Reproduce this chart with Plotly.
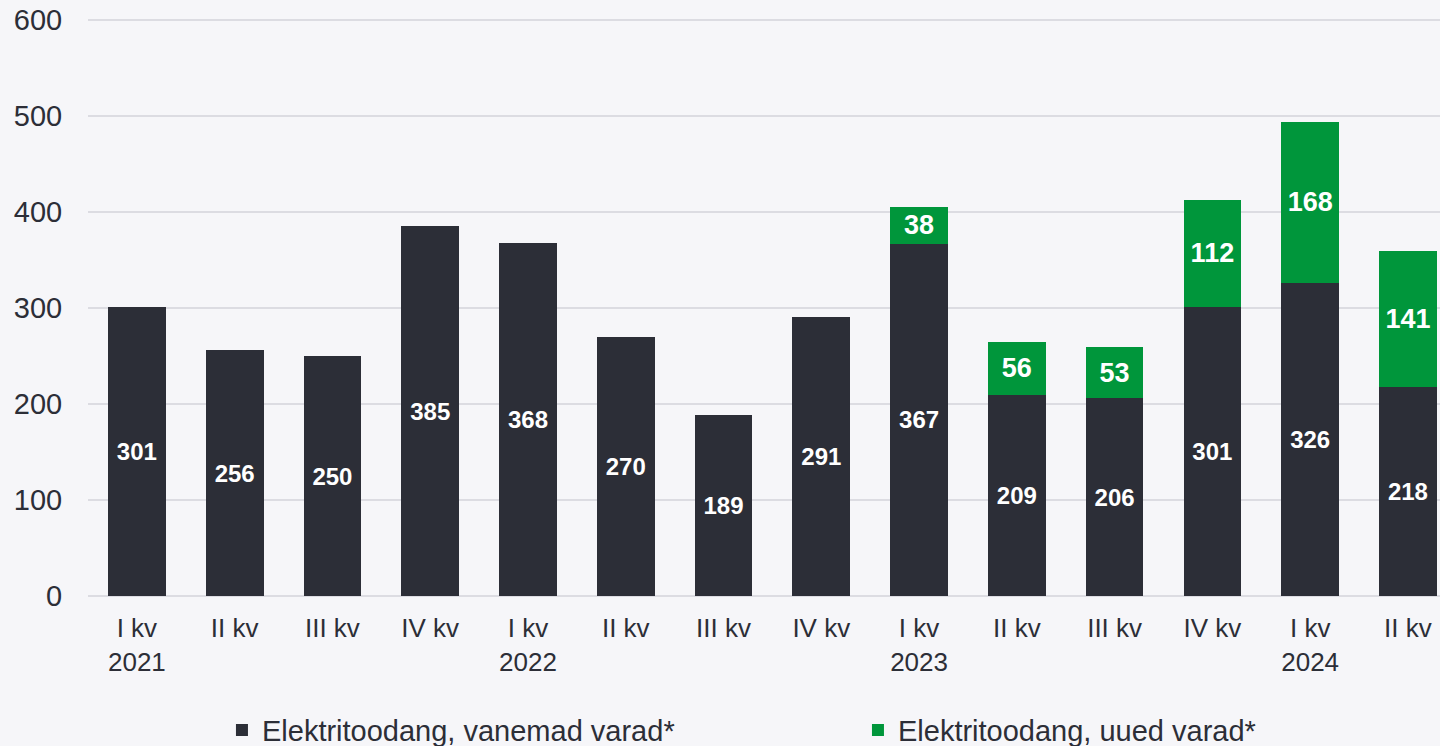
import plotly.graph_objects as go

quarters = ["I kv<br>2021", "II kv", "III kv", "IV kv", "I kv<br>2022", "II kv", "III kv",
            "IV kv", "I kv<br>2023", "II kv", "III kv", "IV kv", "I kv<br>2024", "II kv"]
old_assets = [301, 256, 250, 385, 368, 270, 189, 291, 367, 209, 206, 301, 326, 218]
new_assets = [None, None, None, None, None, None, None, None, 38, 56, 53, 112, 168, 141]
y_ticks = [0, 100, 200, 300, 400, 500, 600]

DARK = "#2c2e37"
GREEN = "#00963b"
BG = "#f6f6f9"
FONT = "Liberation Sans, Arial, sans-serif"

x = list(range(len(quarters)))

fig = go.Figure()
fig.add_trace(go.Bar(
    x=x, y=old_assets, name="Elektritoodang, vanemad varad*",
    marker=dict(color=DARK, line=dict(width=0)),
    text=old_assets, texttemplate="<b>%{text}</b>", textposition="inside",
    insidetextanchor="middle", constraintext="none",
    textfont=dict(color="white", size=24, family=FONT),
))
fig.add_trace(go.Bar(
    x=x, y=new_assets, name="Elektritoodang, uued varad*",
    marker=dict(color=GREEN, line=dict(width=0)),
    text=new_assets, texttemplate="<b>%{text}</b>", textposition="inside",
    insidetextanchor="middle", constraintext="none",
    textfont=dict(color="white", size=27, family=FONT),
))

fig.update_layout(
    barmode="stack",
    bargap=0.41,
    width=1440, height=746,
    margin=dict(l=88, r=0, t=18, b=150, autoexpand=False),
    paper_bgcolor=BG, plot_bgcolor=BG,
    font=dict(family=FONT, color=DARK, size=26),
    showlegend=True,
    legend=dict(orientation="h", x=0.5695, xanchor="center", y=-0.232, yanchor="middle",
                font=dict(size=29, color=DARK), entrywidth=591, traceorder="normal",
                bgcolor="rgba(0,0,0,0)"),
)
fig.update_xaxes(
    tickmode="array", tickvals=x, ticktext=quarters,
    range=[-0.5, 13.328], showgrid=False, zeroline=False, showline=False,
    tickfont=dict(size=26, color=DARK), ticks="outside", ticklen=9, tickcolor="rgba(0,0,0,0)",
)
fig.update_yaxes(
    range=[0, 602.083], tickvals=y_ticks, showgrid=True, gridcolor="#dcdce2", gridwidth=2,
    zeroline=True, zerolinecolor="#dcdce2", zerolinewidth=2, showline=False,
    tickfont=dict(size=29, color=DARK), ticks="outside", ticklen=19, tickcolor="rgba(0,0,0,0)",
)

fig.write_html(
    "out.html",
    config={"displayModeBar": False},
    post_script="document.body.style.margin='0';document.body.style.background='#f6f6f9';",
)
